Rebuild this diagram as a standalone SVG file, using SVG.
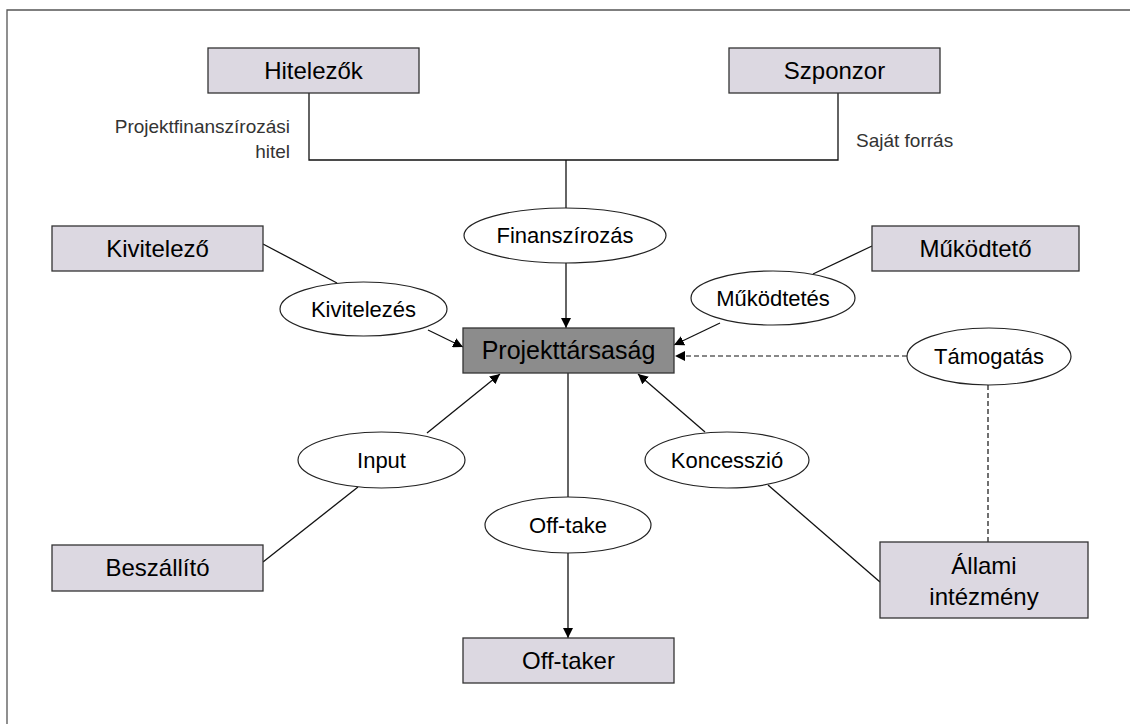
<svg xmlns="http://www.w3.org/2000/svg" width="1130" height="724" viewBox="0 0 1130 724">
<defs>
<marker id="arr" viewBox="0 0 10 10" refX="10" refY="5" markerWidth="10" markerHeight="10" markerUnits="userSpaceOnUse" orient="auto">
<path d="M0,0 L10,5 L0,10 z" fill="#000"/>
</marker>
<style>
.box{fill:#dcd8e1;stroke:#333;stroke-width:1.3}
.main{fill:#8c8c8c;stroke:#333;stroke-width:1.3}
.ell{fill:#fff;stroke:#222;stroke-width:1.2}
.bt{font-family:"Liberation Sans",Arial,sans-serif;font-size:24px;fill:#000;text-anchor:middle}
.et{font-family:"Liberation Sans",Arial,sans-serif;font-size:22px;fill:#000;text-anchor:middle}
.lt{font-family:"Liberation Sans",Arial,sans-serif;font-size:19px;fill:#333}
.ln{fill:none;stroke:#111;stroke-width:1.3}
.dash{fill:none;stroke:#111;stroke-width:1.2;stroke-dasharray:5,3}
</style>
</defs>
<rect width="1130" height="724" fill="#fff"/>
<path d="M7,724 V10 H1130" fill="none" stroke="#555" stroke-width="1.3"/>

<g id="connectors">
<path class="ln" d="M309,93 V160 H838 V93"/>
<line class="ln" x1="566" y1="160" x2="566" y2="208"/>
<line class="ln" x1="566" y1="263" x2="566" y2="328" marker-end="url(#arr)"/>
<line class="ln" x1="263" y1="244" x2="337" y2="283"/>
<line class="ln" x1="428" y1="330" x2="463" y2="347" marker-end="url(#arr)"/>
<line class="ln" x1="872" y1="246" x2="813" y2="274"/>
<line class="ln" x1="720" y1="323" x2="674" y2="345" marker-end="url(#arr)"/>
<line class="dash" x1="907" y1="356" x2="675" y2="356" marker-end="url(#arr)"/>
<line class="dash" x1="988" y1="385" x2="988" y2="543"/>
<line class="ln" x1="263" y1="562" x2="358" y2="487"/>
<line class="ln" x1="427" y1="433" x2="500" y2="374" marker-end="url(#arr)"/>
<line class="ln" x1="768" y1="485" x2="880" y2="582"/>
<line class="ln" x1="705" y1="432" x2="638" y2="374" marker-end="url(#arr)"/>
<line class="ln" x1="568" y1="373" x2="568" y2="497"/>
<line class="ln" x1="568" y1="553" x2="568" y2="638" marker-end="url(#arr)"/>
</g>

<g id="label-hitel">
<text class="lt" x="290" y="133" text-anchor="end">Projektfinanszírozási</text>
<text class="lt" x="290" y="158" text-anchor="end">hitel</text>
</g>
<g id="label-sajat">
<text class="lt" x="856" y="147">Saját forrás</text>
</g>

<g id="hitelezok">
<rect class="box" x="208" y="48" width="211" height="45"/>
<text class="bt" x="313.5" y="79">Hitelezők</text>
</g>
<g id="szponzor">
<rect class="box" x="729" y="48" width="211" height="45"/>
<text class="bt" x="834.5" y="79">Szponzor</text>
</g>
<g id="kivitelezo">
<rect class="box" x="52" y="226" width="211" height="45"/>
<text class="bt" x="157.5" y="257">Kivitelező</text>
</g>
<g id="mukodteto">
<rect class="box" x="872" y="226" width="207" height="45"/>
<text class="bt" x="975.5" y="257">Működtető</text>
</g>
<g id="projekttarsasag">
<rect class="main" x="463" y="328" width="211" height="45"/>
<text class="bt" x="568.5" y="359" style="font-size:25px">Projekttársaság</text>
</g>
<g id="beszallito">
<rect class="box" x="52" y="545" width="211" height="46"/>
<text class="bt" x="157.5" y="576">Beszállító</text>
</g>
<g id="allami">
<rect class="box" x="880" y="542" width="208" height="76"/>
<text class="bt" x="984" y="574">Állami</text>
<text class="bt" x="984" y="605">intézmény</text>
</g>
<g id="offtaker">
<rect class="box" x="463" y="638" width="211" height="45"/>
<text class="bt" x="568.5" y="669">Off-taker</text>
</g>

<g id="finanszirozas">
<ellipse class="ell" cx="565" cy="235.5" rx="101" ry="27.5"/>
<text class="et" x="565" y="243">Finanszírozás</text>
</g>
<g id="kivitelezes">
<ellipse class="ell" cx="363.5" cy="309" rx="83.5" ry="27"/>
<text class="et" x="363.5" y="317">Kivitelezés</text>
</g>
<g id="mukodtetes">
<ellipse class="ell" cx="773" cy="298" rx="82" ry="27"/>
<text class="et" x="773" y="306">Működtetés</text>
</g>
<g id="tamogatas">
<ellipse class="ell" cx="989" cy="356.5" rx="82" ry="28.5"/>
<text class="et" x="989" y="364">Támogatás</text>
</g>
<g id="input">
<ellipse class="ell" cx="381.5" cy="460" rx="83.5" ry="28"/>
<text class="et" x="381.5" y="468">Input</text>
</g>
<g id="koncesszio">
<ellipse class="ell" cx="727" cy="460" rx="82" ry="28"/>
<text class="et" x="727" y="468">Koncesszió</text>
</g>
<g id="offtake">
<ellipse class="ell" cx="568" cy="525" rx="83" ry="28"/>
<text class="et" x="568" y="533">Off-take</text>
</g>
</svg>
